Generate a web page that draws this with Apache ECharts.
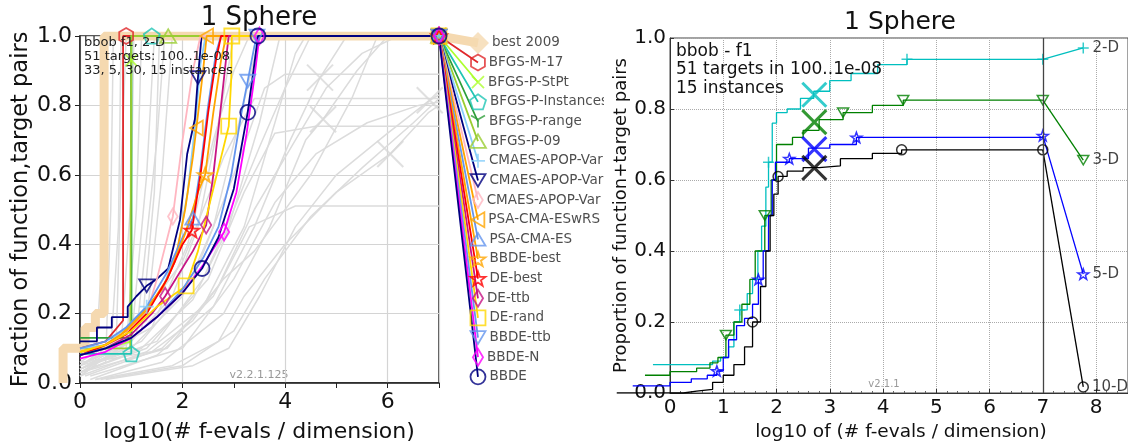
<!DOCTYPE html>
<html>
<head>
<meta charset="utf-8">
<script src="https://cdn.jsdelivr.net/npm/echarts@6/dist/echarts.min.js"></script>
<style>
html, body { margin: 0; padding: 0; background: #fff; }
#left { position: absolute; left: 0; top: 0; width: 604px; height: 447px; overflow: hidden; }
#right { position: absolute; left: 604px; top: 0; width: 524px; height: 447px; overflow: hidden; }
</style>
</head>
<body>
<div id="left"></div>
<div id="right"></div>
<script>
// ---------- left panel data: ECDF per algorithm, 2-D ----------
var leftNames = ["best 2009", "BFGS-M-17", "BFGS-P-StPt", "BFGS-P-Instances", "BFGS-P-range",
  "BFGS-P-09", "CMAES-APOP-Var", "CMAES-APOP-Var", "CMAES-APOP-Var", "PSA-CMA-ESwRS",
  "PSA-CMA-ES", "BBDE-best", "DE-best", "DE-ttb", "DE-rand", "BBDE-ttb", "BBDE-N", "BBDE"];

var best2009 = [[-0.33, 0], [-0.33, 0.1], [0.1, 0.1], [0.1, 0.16], [0.3, 0.16], [0.3, 0.2], [0.47, 0.2], [0.47, 1.0], [7, 1.0]];
var bfgsM17 = [[0, 0.1], [0.5, 0.12], [0.84, 0.18], [0.84, 1.0], [0.9, 1.0], [7, 1.0]];
var bfgsPStPt = [[0, 0.09], [0.5, 0.1], [1.0, 0.12], [1.0, 0.93], [1.0, 1.0], [7, 1.0]];
var bfgsPInst = [[0, 0.084], [1.0, 0.084], [1.0, 1.0], [1.4, 1.0], [7, 1.0]];
var bfgsPRange = [[0, 0.13], [1.0, 0.13], [1.0, 1.0], [7, 1.0]];
var bfgsP09 = [[0, 0.1], [0.98, 0.1], [1.0, 1.0], [1.72, 1.0], [7, 1.0]];
var cmaVar1 = [[0, 0.1], [0.5, 0.11], [0.9, 0.16], [1.3, 0.22], [1.6, 0.27], [1.9, 0.38], [2.1, 0.55], [2.25, 0.75], [2.35, 0.92], [2.45, 1.0], [7, 1.0]];
var cmaVar2 = [[0, 0.12], [0.33, 0.12], [0.33, 0.16], [0.62, 0.16], [0.62, 0.19], [0.93, 0.19], [0.93, 0.22], [1.1, 0.25], [1.3, 0.28], [1.5, 0.3], [1.72, 0.33], [1.95, 0.47], [2.09, 0.66], [2.24, 0.76], [2.3, 0.88], [2.37, 1.0], [7, 1.0]];
var cmaVar3 = [[0, 0.09], [0.5, 0.11], [0.9, 0.15], [1.3, 0.2], [1.5, 0.3], [1.81, 0.48], [2.0, 0.7], [2.2, 0.9], [2.35, 1.0], [7, 1.0]];
var psaWRS = [[0, 0.08], [0.5, 0.11], [0.8, 0.14], [1.2, 0.2], [1.6, 0.27], [1.85, 0.35], [2.05, 0.5], [2.2, 0.65], [2.27, 0.735], [2.4, 0.9], [2.47, 1.0], [7, 1.0]];
var psa = [[0, 0.1], [0.5, 0.12], [0.9, 0.16], [1.3, 0.22], [1.7, 0.32], [2.0, 0.42], [2.2, 0.475], [2.35, 0.62], [2.5, 0.8], [2.65, 0.95], [2.75, 1.0], [7, 1.0]];
var bbdeBest = [[0, 0.09], [0.5, 0.11], [0.9, 0.15], [1.3, 0.21], [1.7, 0.3], [2.05, 0.43], [2.3, 0.55], [2.44, 0.6], [2.6, 0.78], [2.75, 0.93], [2.85, 1.0], [7, 1.0]];
var deBest = [[0, 0.08], [0.5, 0.11], [0.9, 0.14], [1.3, 0.2], [1.7, 0.3], [2.0, 0.4], [2.18, 0.44], [2.35, 0.6], [2.5, 0.78], [2.65, 0.93], [2.75, 1.0], [7, 1.0]];
var deTtb = [[0, 0.08], [0.5, 0.1], [1.0, 0.14], [1.4, 0.2], [1.66, 0.25], [2.2, 0.38], [2.46, 0.455], [2.6, 0.6], [2.75, 0.8], [2.86, 0.95], [2.9, 1.0], [7, 1.0]];
var deRand = [[0, 0.09], [0.5, 0.11], [1.0, 0.15], [1.5, 0.22], [2.07, 0.28], [2.3, 0.38], [2.5, 0.5], [2.7, 0.62], [2.9, 0.74], [2.95, 0.88], [2.96, 1.0], [7, 1.0]];
var bbdeTtb = [[0, 0.08], [0.5, 0.1], [1.0, 0.13], [1.5, 0.19], [2.0, 0.27], [2.4, 0.36], [2.7, 0.45], [2.95, 0.6], [3.15, 0.78], [3.27, 0.87], [3.4, 0.97], [3.45, 1.0], [7, 1.0]];
var bbdeN = [[0, 0.07], [0.5, 0.09], [1.0, 0.13], [1.5, 0.19], [2.0, 0.26], [2.4, 0.34], [2.81, 0.435], [3.05, 0.55], [3.25, 0.72], [3.4, 0.88], [3.5, 1.0], [7, 1.0]];
var bbde = [[0, 0.08], [0.5, 0.1], [1.0, 0.13], [1.5, 0.19], [2.0, 0.26], [2.38, 0.33], [2.7, 0.42], [3.0, 0.56], [3.27, 0.78], [3.4, 0.92], [3.47, 1.0], [7, 1.0]];

var leftData = [best2009, bfgsM17, bfgsPStPt, bfgsPInst, bfgsPRange, bfgsP09, cmaVar1, cmaVar2, cmaVar3,
  psaWRS, psa, bbdeBest, deBest, deTtb, deRand, bbdeTtb, bbdeN, bbde];
// indices of points that carry a marker
var leftMarks = [[], [4, 5], [3, 5], [1, 3, 4], [3], [3, 4], [3, 10], [8, 14, 16], [5, 9],
  [8, 10, 11], [6, 11], [7, 11], [6, 11], [4, 6, 11], [4, 8, 10, 11], [9, 11, 12], [6, 10, 11], [5, 8, 10, 11]];

// 2009 reference algorithms (grey background)
var grey = [
  [[0, 0.02], [0.3, 0.05], [0.4, 0.3], [0.45, 1.0]],
  [[0, 0.03], [0.5, 0.06], [0.6, 0.5], [0.65, 1.0]],
  [[0, 0.05], [0.7, 0.08], [0.8, 0.6], [0.9, 1.0]],
  [[0, 0.04], [0.9, 0.1], [1.1, 0.5], [1.2, 1.0]],
  [[0, 0.03], [1.0, 0.12], [1.3, 0.6], [1.45, 1.0]],
  [[0, 0.02], [1.1, 0.14], [1.5, 0.7], [1.65, 1.0]],
  [[0, 0.04], [0.6, 0.09], [0.75, 0.45], [0.8, 1.0]],
  [[0, 0.03], [0.8, 0.1], [1.0, 0.55], [1.05, 1.0]],
  [[0, 0.05], [1.2, 0.15], [1.45, 0.55], [1.55, 1.0]],
  [[0, 0.06], [1.3, 0.18], [1.6, 0.6], [1.8, 1.0]],
  [[0, 0.05], [1.0, 0.12], [1.8, 0.25], [2.3, 0.45], [2.7, 0.75], [3.0, 1.0]],
  [[0, 0.04], [1.0, 0.1], [2.0, 0.25], [2.6, 0.45], [3.1, 0.75], [3.5, 1.0]],
  [[0, 0.03], [1.2, 0.1], [2.2, 0.24], [2.9, 0.45], [3.5, 0.75], [3.9, 1.0]],
  [[0, 0.02], [1.3, 0.09], [2.4, 0.22], [3.2, 0.45], [3.8, 0.75], [4.2, 0.95], [4.4, 1.0]],
  [[0.2, 0.01], [1.5, 0.08], [2.6, 0.22], [3.4, 0.45], [4.1, 0.7], [4.68, 0.88], [5.2, 1.0]],
  [[0.3, 0.01], [1.6, 0.06], [2.8, 0.2], [3.7, 0.45], [4.4, 0.7], [4.74, 0.76], [5.4, 0.9], [6.0, 1.0]],
  [[0.3, 0.01], [1.8, 0.05], [2.7, 0.12], [3.2, 0.25], [4.0, 0.4], [5.0, 0.55], [6.05, 0.66], [6.8, 0.78], [7, 0.8]],
  [[0.4, 0.01], [2.0, 0.05], [3.0, 0.15], [3.6, 0.3], [4.5, 0.48], [5.5, 0.62], [6.5, 0.75], [7, 0.82]],
  [[0.5, 0.01], [2.2, 0.05], [2.9, 0.1], [3.5, 0.25], [4.2, 0.45], [5.0, 0.6], [6.0, 0.72], [6.82, 0.815], [7, 0.83]],
  [[0, 0.04], [1.2, 0.12], [2.2, 0.3], [3.0, 0.6], [3.6, 0.85], [4.0, 0.89], [7, 0.89]],
  [[0, 0.03], [1.3, 0.1], [2.5, 0.3], [3.2, 0.55], [3.8, 0.72], [4.6, 0.74], [7, 0.74]],
  [[0.1, 0.02], [1.6, 0.1], [2.6, 0.25], [3.3, 0.45], [4.2, 0.51], [7, 0.51]],
  [[0, 0.05], [1.0, 0.15], [2.0, 0.35], [2.8, 0.65], [3.4, 0.82], [7, 0.82]],
  [[0, 0.06], [0.6, 0.07], [1.4, 0.09], [2.2, 0.18], [2.8, 0.3], [3.4, 0.38], [4.5, 0.6], [5.3, 0.82], [5.8, 1.0]],
  [[0, 0.04], [1.5, 0.12], [2.4, 0.3], [3.0, 0.5], [3.5, 0.68], [4.0, 0.85], [4.5, 1.0]],
  [[0, 0.03], [1.7, 0.1], [2.7, 0.28], [3.4, 0.5], [4.0, 0.65], [4.8, 0.85], [5.5, 0.95], [6.2, 1.0]],
  [[0.2, 0.02], [2.0, 0.1], [3.0, 0.3], [3.8, 0.52], [4.6, 0.66], [5.6, 0.75], [6.6, 0.8], [7, 0.81]],
  [[0, 0.05], [1.4, 0.16], [2.1, 0.4], [2.6, 0.7], [3.0, 0.9], [3.3, 1.0]]
];
var greyCross = [[4.68, 0.88], [4.74, 0.76], [6.05, 0.66], [6.82, 0.815]];

// ---------- right panel data: ECDF per dimension ----------
var rightNames = ["2-D", "3-D", "5-D", "10-D"];
var r2D = [[-0.32, 0.08], [0.8, 0.09], [0.95, 0.1], [1.1, 0.13], [1.2, 0.2], [1.31, 0.234], [1.45, 0.28], [1.55, 0.32], [1.65, 0.4], [1.72, 0.47], [1.8, 0.58], [1.85, 0.65], [1.92, 0.76], [2.0, 0.79], [2.2, 0.8], [2.45, 0.83], [2.7, 0.85], [3.0, 0.88], [3.4, 0.9], [3.9, 0.925], [4.45, 0.94], [7, 0.94]];
var r3D = [[-0.47, 0.05], [0.0, 0.06], [0.5, 0.07], [0.75, 0.085], [0.9, 0.1], [1.05, 0.163], [1.2, 0.2], [1.35, 0.25], [1.5, 0.32], [1.6, 0.4], [1.78, 0.5], [1.9, 0.6], [2.0, 0.7], [2.3, 0.72], [2.5, 0.74], [2.8, 0.77], [3.25, 0.79], [3.8, 0.81], [4.38, 0.825], [7, 0.825]];
var r5D = [[-0.7, 0.02], [0.0, 0.03], [0.4, 0.04], [0.7, 0.05], [0.88, 0.062], [1.0, 0.1], [1.1, 0.15], [1.25, 0.19], [1.4, 0.21], [1.55, 0.25], [1.66, 0.32], [1.75, 0.4], [1.85, 0.5], [1.92, 0.6], [1.98, 0.65], [2.24, 0.66], [2.6, 0.69], [3.0, 0.7], [3.5, 0.72], [7, 0.725]];
var r10D = [[-1.0, 0.0], [0.25, 0.005], [0.5, 0.01], [0.8, 0.03], [1.0, 0.05], [1.2, 0.08], [1.4, 0.13], [1.55, 0.2], [1.7, 0.3], [1.8, 0.4], [1.88, 0.5], [1.95, 0.56], [2.03, 0.61], [2.2, 0.625], [2.5, 0.635], [2.8, 0.64], [3.2, 0.66], [3.8, 0.675], [4.35, 0.685], [7, 0.685]];
var rightData = [r2D, r3D, r5D, r10D];
var rightMarks = [[5, 11, 20, 21], [5, 10, 16, 18, 19], [4, 10, 15, 18, 19], [7, 12, 18, 19]];
var rightEnd = [[7.76, 0.972], [7.76, 0.656], [7.76, 0.335], [7.76, 0.017]];
var rightCross = [[2.71, 0.84], [2.71, 0.763], [2.71, 0.687], [2.71, 0.634]];

// ---------- styling ----------
var FONT = "DejaVu Sans";
var SYM = {
  hexagon: "path://M0,-10L8.66,-5L8.66,5L0,10L-8.66,5L-8.66,-5Z",
  pentagon: "path://M0,-10L9.51,-3.09L5.88,8.09L-5.88,8.09L-9.51,-3.09Z",
  star: "path://M0,-10L2.35,-3.24L9.51,-3.09L3.8,1.24L5.88,8.09L0,4L-5.88,8.09L-3.8,1.24L-9.51,-3.09L-2.35,-3.24Z",
  tdown: "path://M-10,-8L10,-8L0,9Z",
  tup: "path://M-10,8L10,8L0,-9Z",
  tleft: "path://M-9,0L8,-10L8,10Z",
  tri: "path://M0,0L0,10M0,0L-8.66,-5M0,0L8.66,-5",
  plus: "path://M0,-10L0,10M-10,0L10,0",
  cross: "path://M-10,-10L10,10M-10,10L10,-10",
  thin: "path://M0,-10L6,0L0,10L-6,0Z",
  square: "path://M-10,-10L10,-10L10,10L-10,10Z",
  bigDiamond: "path://M0,-10L10,0L0,10L-10,0Z",
  circle: "circle"
};
var leftStyle = [
  { c: "#f5d9b0", s: "bigDiamond", w: 9, size: 22, fill: true },
  { c: "#e0282b", s: "hexagon", w: 1.8, size: 16 },
  { c: "#adff2f", s: "cross", w: 1.8, size: 12 },
  { c: "#20c5b5", s: "pentagon", w: 1.8, size: 16 },
  { c: "#2e9e3a", s: "tri", w: 1.8, size: 14 },
  { c: "#9acd32", s: "tup", w: 1.8, size: 16 },
  { c: "#87cefa", s: "plus", w: 1.8, size: 14 },
  { c: "#000080", s: "tdown", w: 1.8, size: 15 },
  { c: "#ffb6c1", s: "thin", w: 1.8, size: 16 },
  { c: "#ffa500", s: "tleft", w: 1.8, size: 15 },
  { c: "#6495ed", s: "tup", w: 1.8, size: 15 },
  { c: "#ffa500", s: "star", w: 1.8, size: 15 },
  { c: "#ff0000", s: "star", w: 1.8, size: 15 },
  { c: "#c71585", s: "thin", w: 1.8, size: 17 },
  { c: "#ffd700", s: "square", w: 1.8, size: 15 },
  { c: "#6495ed", s: "tdown", w: 1.8, size: 15 },
  { c: "#ff00ff", s: "thin", w: 1.8, size: 17 },
  { c: "#000080", s: "circle", w: 1.8, size: 15 }
];
var rightStyle = [
  { c: "#00bfbf", s: "plus", size: 11 },
  { c: "#008000", s: "tdown", size: 11 },
  { c: "#0000ff", s: "star", size: 11 },
  { c: "#000000", s: "circle", size: 10 }
];
// legend entries are stacked below (7, 1) at the right of the axes
var LEG_X = 7.76, LEG_Y0 = 0.98, LEG_DY = 0.0566;

// Each panel has a visible frame grid (axes, ticks, grid lines) and an invisible
// data grid with the same scale but a wider x range, so curves may run outside the frame.
var L = { w: 604, left: 80, right: 165, top: 36, bottom: 64, xmin: 0, xmax: 7, dmin: -0.4, dmax: 7.9 };
var R = { w: 524, left: 66, right: 0, top: 38, bottom: 54, xmin: 0, xmax: 8.6, dmin: -1.0, dmax: 8.6 };
function frameGrid(p, color, width) {
  return { left: p.left, right: p.right, top: p.top, bottom: p.bottom, show: true,
    borderColor: color, borderWidth: width, outerBoundsMode: "none", containLabel: false };
}
function dataGrid(p) {
  var unit = (p.w - p.left - p.right) / (p.xmax - p.xmin);
  var l = p.left + (p.dmin - p.xmin) * unit;
  var r = p.w - (p.left + (p.dmax - p.xmin) * unit);
  return { left: l, right: r, top: p.top, bottom: p.bottom, outerBoundsMode: "none", containLabel: false };
}

// ---------- left chart ----------
var leftSeries = [];
grey.forEach(function (g) {
  leftSeries.push({ type: "line", xAxisIndex: 1, yAxisIndex: 1, data: g, symbol: "none", silent: true, z: 1,
    lineStyle: { color: "#dcdcdc", width: 1.5 } });
});
leftSeries.push({ type: "scatter", xAxisIndex: 1, yAxisIndex: 1, data: greyCross, symbol: SYM.cross, symbolSize: 26, z: 1, silent: true,
  itemStyle: { color: "rgba(0,0,0,0)", borderColor: "#d8d8d8", borderWidth: 2 } });

leftNames.forEach(function (name, i) {
  var st = leftStyle[i];
  var pts = leftData[i];
  var end = [LEG_X, LEG_Y0 - i * LEG_DY];
  leftSeries.push({ type: "line", xAxisIndex: 1, yAxisIndex: 1, data: pts.concat([end]), symbol: "none", silent: true,
    z: 3, lineStyle: { color: st.c, width: st.w } });
  var marks = leftMarks[i].map(function (k) { return pts[k]; });
  marks.push({ value: end, label: { show: true, position: "right", distance: 3, formatter: name,
    color: "#222", fontSize: 13.5, fontFamily: FONT } });
  leftSeries.push({ type: "scatter", xAxisIndex: 1, yAxisIndex: 1, data: marks, clip: false, symbol: SYM[st.s], symbolSize: st.size,
    symbolKeepAspect: true, silent: true, z: 4,
    itemStyle: { color: st.fill ? st.c : "rgba(0,0,0,0)", borderColor: st.c, borderWidth: st.fill ? 0 : 1.8 } });
});

var leftChart = echarts.init(document.getElementById("left"));
leftChart.setOption({
  animation: false,
  grid: [frameGrid(L, "#222", 1.5), dataGrid(L)],
  xAxis: [{
    type: "value", gridIndex: 0, min: L.xmin, max: L.xmax, interval: 2,
    axisLine: { lineStyle: { color: "#222", width: 1.5 } },
    axisTick: { length: 5, lineStyle: { color: "#222" } },
    minorTick: { show: true, splitNumber: 2, length: 5, lineStyle: { color: "#222" } },
    axisLabel: { fontSize: 22, color: "#111", fontFamily: FONT, margin: 8, showMaxLabel: false },
    splitLine: { show: true, lineStyle: { color: "#d4d4d4", width: 1.2 } }
  }, { type: "value", gridIndex: 1, min: L.dmin, max: L.dmax, show: false }],
  yAxis: [{
    type: "value", gridIndex: 0, min: 0, max: 1, interval: 0.2,
    name: "Fraction of function,target pairs", nameLocation: "middle", nameGap: 47, nameMoveOverlap: false,
    nameTextStyle: { fontSize: 22.5, color: "#111", fontFamily: FONT },
    axisLine: { lineStyle: { color: "#222", width: 1.5 } },
    axisTick: { length: 5, lineStyle: { color: "#222" } },
    axisLabel: { fontSize: 22, color: "#111", fontFamily: FONT, margin: 8,
      formatter: function (v) { return v.toFixed(1); } },
    splitLine: { show: true, lineStyle: { color: "#d4d4d4", width: 1.2 } }
  }, { type: "value", gridIndex: 1, min: 0, max: 1, show: false }],
  graphic: [
    { type: "text", x: 259, y: 18, style: { text: "1 Sphere", fontSize: 26, fill: "#111", fontFamily: FONT, textAlign: "center", textVerticalAlign: "middle" } },
    { type: "text", x: 259, y: 432, style: { text: "log10(# f-evals / dimension)", fontSize: 22, fill: "#111", fontFamily: FONT, textAlign: "center", textVerticalAlign: "middle" } },
    { type: "text", x: 84, y: 43, style: { text: "bbob f1, 2-D", fontSize: 13, fill: "#222", fontFamily: FONT, textVerticalAlign: "middle" }, z: 10 },
    { type: "text", x: 84, y: 57, style: { text: "51 targets: 100..1e-08", fontSize: 13, fill: "#222", fontFamily: FONT, textVerticalAlign: "middle" }, z: 10 },
    { type: "text", x: 84, y: 71, style: { text: "33, 5, 30, 15 instances", fontSize: 13, fill: "#222", fontFamily: FONT, textVerticalAlign: "middle" }, z: 10 },
    { type: "text", x: 259, y: 375, style: { text: "v2.2.1.125", fontSize: 11, fill: "#999", fontFamily: FONT, textAlign: "center", textVerticalAlign: "middle" } }
  ],
  series: leftSeries
});

// ---------- right chart ----------
var rightSeries = [];
rightNames.forEach(function (name, i) {
  var st = rightStyle[i];
  var pts = rightData[i];
  rightSeries.push({ type: "line", xAxisIndex: 1, yAxisIndex: 1, data: pts, step: "end", symbol: "none", silent: true,
    z: 3, lineStyle: { color: st.c, width: 1.3 } });
  rightSeries.push({ type: "line", xAxisIndex: 1, yAxisIndex: 1, data: [pts[pts.length - 1], rightEnd[i]], symbol: "none",
    silent: true, z: 3, lineStyle: { color: st.c, width: 1.3 } });
  var marks = rightMarks[i].map(function (k) { return pts[k]; });
  marks.push({ value: rightEnd[i], label: { show: true, position: "right", distance: 3, formatter: name,
    color: "#111", fontSize: 15, fontFamily: FONT } });
  rightSeries.push({ type: "scatter", xAxisIndex: 1, yAxisIndex: 1, data: marks, clip: false, symbol: SYM[st.s], symbolSize: st.size,
    symbolKeepAspect: true, silent: true, z: 4,
    itemStyle: { color: "rgba(0,0,0,0)", borderColor: st.c, borderWidth: 1.5 } });
  rightSeries.push({ type: "scatter", xAxisIndex: 1, yAxisIndex: 1, data: [rightCross[i]], symbol: SYM.cross, symbolSize: 24, silent: true, z: 5,
    itemStyle: { color: "rgba(0,0,0,0)", borderColor: st.c, borderWidth: 3 } });
});
rightSeries[0].markLine = {
  silent: true, symbol: "none", label: { show: false },
  lineStyle: { color: "#444", width: 1.3, type: "solid" },
  data: [{ xAxis: 7 }]
};

var rightChart = echarts.init(document.getElementById("right"));
rightChart.setOption({
  animation: false,
  grid: [frameGrid(R, "#444", 1), dataGrid(R)],
  xAxis: [{
    type: "value", gridIndex: 0, min: R.xmin, max: R.xmax, interval: 1,
    axisLine: { lineStyle: { color: "#333", width: 1 } },
    axisTick: { inside: true, length: 4, lineStyle: { color: "#333" } },
    minorTick: { show: true, splitNumber: 5, length: 2, lineStyle: { color: "#666" } },
    axisLabel: { fontSize: 20, color: "#111", fontFamily: FONT, margin: 5,
      formatter: function (v) { return Number.isInteger(v) ? String(v) : ""; } },
    splitLine: { show: true, lineStyle: { color: "#aaa", width: 1, type: "dotted" } }
  }, { type: "value", gridIndex: 1, min: R.dmin, max: R.dmax, show: false }],
  yAxis: [{
    type: "value", gridIndex: 0, min: 0, max: 1, interval: 0.2,
    name: "Proportion of function+target pairs", nameLocation: "middle", nameGap: 40, nameMoveOverlap: false,
    nameTextStyle: { fontSize: 18, color: "#111", fontFamily: FONT },
    axisLine: { lineStyle: { color: "#333", width: 1 } },
    axisTick: { inside: true, length: 4, lineStyle: { color: "#333" } },
    axisLabel: { fontSize: 20, color: "#111", fontFamily: FONT, margin: 4,
      formatter: function (v) { return v.toFixed(1); } },
    splitLine: { show: true, lineStyle: { color: "#aaa", width: 1, type: "dotted" } }
  }, { type: "value", gridIndex: 1, min: 0, max: 1, show: false }],
  graphic: [
    { type: "text", x: 296, y: 22, style: { text: "1 Sphere", fontSize: 25, fill: "#111", fontFamily: FONT, textAlign: "center", textVerticalAlign: "middle" } },
    { type: "text", x: 72, y: 52, style: { text: "bbob - f1", fontSize: 17, fill: "#111", fontFamily: FONT, textVerticalAlign: "middle" }, z: 10 },
    { type: "text", x: 72, y: 70, style: { text: "51 targets in 100..1e-08", fontSize: 17, fill: "#111", fontFamily: FONT, textVerticalAlign: "middle" }, z: 10 },
    { type: "text", x: 72, y: 89, style: { text: "15 instances", fontSize: 17, fill: "#111", fontFamily: FONT, textVerticalAlign: "middle" }, z: 10 },
    { type: "text", x: 280, y: 384, style: { text: "v2.1.1", fontSize: 10, fill: "#999", fontFamily: FONT, textAlign: "center", textVerticalAlign: "middle" } },
    { type: "text", x: 297, y: 432, style: { text: "log10 of (# f-evals / dimension)", fontSize: 18.5, fill: "#111", fontFamily: FONT, textAlign: "center", textVerticalAlign: "middle" } }
  ],
  series: rightSeries
});
</script>
</body>
</html>
